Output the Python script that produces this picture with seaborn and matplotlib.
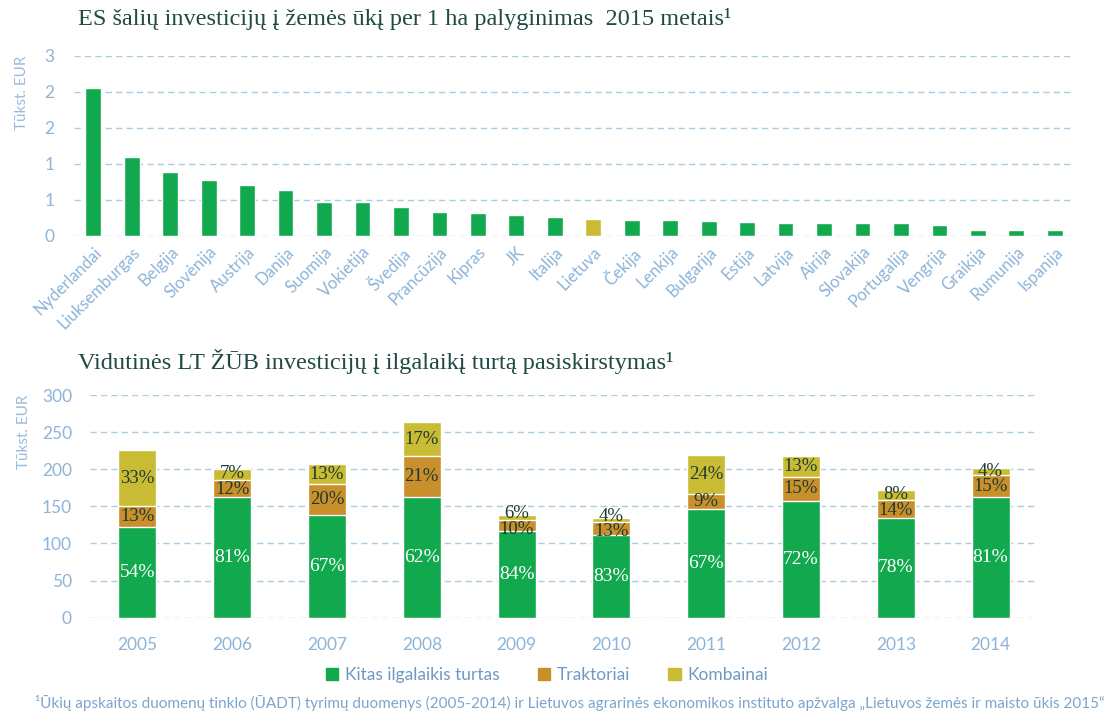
import numpy as np
import pandas as pd
import matplotlib.pyplot as plt
import seaborn as sns
from matplotlib.patches import Patch

# --- top chart: investment per ha, thousand EUR ---
countries = ['Nyderlandai', 'Liuksemburgas', 'Belgija', 'Slovėnija', 'Austrija', 'Danija',
             'Suomija', 'Vokietija', 'Švedija', 'Prancūzija', 'Kipras', 'JK', 'Italija',
             'Lietuva', 'Čekija', 'Lenkija', 'Bulgarija', 'Estija', 'Latvija', 'Airija',
             'Slovakija', 'Portugalija', 'Vengrija', 'Graikija', 'Rumunija', 'Ispanija']
values = [2.06, 1.09, 0.89, 0.77, 0.70, 0.63, 0.47, 0.47, 0.39, 0.33, 0.31, 0.28, 0.26,
          0.23, 0.22, 0.21, 0.20, 0.19, 0.17, 0.17, 0.17, 0.17, 0.14, 0.07, 0.07, 0.07]
highlight = 'Lietuva'
top_yticks = [0, 0.5, 1, 1.5, 2, 2.5]
top_ylabels = ['0', '1', '1', '2', '2', '3']

# --- bottom chart: LT farm investments, thousand EUR ---
years = ['2005', '2006', '2007', '2008', '2009', '2010', '2011', '2012', '2013', '2014']
kitas = [122, 162, 139, 163, 117, 112, 147, 157, 134, 163]
traktoriai = [28, 24, 41, 55, 14, 17, 20, 33, 24, 29]
kombainai = [76, 14, 27, 45, 8, 5, 52, 28, 14, 9]
kitas_pct = ['54%', '81%', '67%', '62%', '84%', '83%', '67%', '72%', '78%', '81%']
trakt_pct = ['13%', '12%', '20%', '21%', '10%', '13%', '9%', '15%', '14%', '15%']
komb_pct = ['33%', '7%', '13%', '17%', '6%', '4%', '24%', '13%', '8%', '4%']
bottom_yticks = [0, 50, 100, 150, 200, 250, 300]
series_names = ['Kitas ilgalaikis turtas', 'Traktoriai', 'Kombainai']

GREEN = '#12A84E'
ORANGE = '#C98F2B'
YELLOW = '#C9BC34'
TICK = '#8DB4D9'
GRID = '#A9CDE3'
TITLE = '#1F4B44'
DARK = '#1E3A2F'

sns.set_theme(style='white')
plt.rcParams['font.family'] = ['Lato', 'DejaVu Sans']

W, H = 1119, 719
fig = plt.figure(figsize=(W / 100, H / 100), dpi=100)


def px_axes(x0, x1, y0, y1):
    return fig.add_axes([x0 / W, 1 - y1 / H, (x1 - x0) / W, (y1 - y0) / H])


def style_axis(ax, yticks, ylabels):
    ax.set_yticks(yticks)
    ax.set_yticklabels(ylabels)
    ax.set_ylim(yticks[0], yticks[-1])
    ax.yaxis.grid(True, color=GRID, linestyle=(0, (4.5, 3)), linewidth=1.0)
    ax.xaxis.grid(False)
    ax.set_axisbelow(True)
    sns.despine(ax=ax, left=True, bottom=True)
    ax.tick_params(axis='both', length=0, colors=TICK)
    for lab in ax.get_yticklabels():
        lab.set_fontsize(12.5)
        lab.set_color(TICK)
    ax.set_xlabel('')
    ax.set_ylabel('Tūkst. EUR', loc='top', color='#9BBCDD', fontsize=11)


# top chart
ax1 = px_axes(74, 1074, 56, 235.5)
colors = [YELLOW if c == highlight else GREEN for c in countries]
sns.barplot(x=countries, y=values, hue=countries, palette=colors, legend=False,
            width=0.41, saturation=1, ax=ax1)
ax1.set_xlim(-0.5, len(countries) - 0.5)
style_axis(ax1, top_yticks, top_ylabels)
ax1.tick_params(axis='y', pad=14)
ax1.set_xticks(range(len(countries)))
ax1.set_xticklabels(countries, rotation=45, ha='right', rotation_mode='anchor',
                    fontsize=12, color=TICK)
ax1.tick_params(axis='x', pad=6)
ax1.yaxis.set_label_coords(-0.045, 1.0)

# bottom chart, stacked
ax2 = px_axes(90, 1038, 395, 617.7)
df = pd.DataFrame({'year': years, 'kitas': kitas, 'traktoriai': traktoriai,
                   'kombainai': kombainai})
df['lvl2'] = df['kitas'] + df['traktoriai']
df['lvl3'] = df['lvl2'] + df['kombainai']
sns.barplot(data=df, x='year', y='lvl3', color=YELLOW, width=0.4, saturation=1, ax=ax2)
sns.barplot(data=df, x='year', y='lvl2', color=ORANGE, width=0.4, saturation=1, ax=ax2)
sns.barplot(data=df, x='year', y='kitas', color=GREEN, width=0.4, saturation=1, ax=ax2)
ax2.set_xlim(-0.5, len(years) - 0.5)
style_axis(ax2, bottom_yticks, [str(t) for t in bottom_yticks])
ax2.tick_params(axis='y', pad=13)
ax2.tick_params(axis='x', pad=14, labelsize=12.5)
ax2.yaxis.set_label_coords(-0.062, 1.0)

# percentage labels; small top segments get pushed apart like in the original
min_gap = 21
for i in range(len(years)):
    k, t, c = kitas[i], traktoriai[i], kombainai[i]
    y_t = k + t / 2
    y_c = k + t + c / 2
    if y_c - y_t < min_gap:
        mid = (y_t + y_c) / 2
        y_t, y_c = mid - min_gap / 2, mid + min_gap / 2
    ax2.text(i, k / 2, kitas_pct[i], ha='center', va='center', color='white',
             fontsize=14, family='Liberation Serif')
    ax2.text(i, y_t, trakt_pct[i], ha='center', va='center', color=DARK,
             fontsize=13.5, family='Liberation Serif')
    ax2.text(i, y_c, komb_pct[i], ha='center', va='center', color=DARK,
             fontsize=13.5, family='Liberation Serif')

# titles
fig.text(78 / W, 1 - 19 / H, 'ES šalių investicijų į žemės ūkį per 1 ha palyginimas  2015 metais¹',
         family='Liberation Serif', fontsize=17.5, color=TITLE, va='center')
fig.text(78 / W, 1 - 362 / H, 'Vidutinės LT ŽŪB investicijų į ilgalaikį turtą pasiskirstymas¹',
         family='Liberation Serif', fontsize=17.5, color=TITLE, va='center')

# legend
handles = [Patch(color=GREEN), Patch(color=ORANGE), Patch(color=YELLOW)]
fig.legend(handles, series_names, loc='center', bbox_to_anchor=(547 / W, 1 - 675 / H),
           ncol=3, frameon=False, handlelength=0.7, handleheight=0.7,
           handletextpad=0.4, columnspacing=2.2, labelcolor='#6E99C5', fontsize=12.5)

# footnote
fig.text(35 / W, 1 - 703 / H,
         '¹Ūkių apskaitos duomenų tinklo (ŪADT) tyrimų duomenys (2005-2014) ir Lietuvos agrarinės '
         'ekonomikos instituto apžvalga „Lietuvos žemės ir maisto ūkis 2015“',
         fontsize=11, color='#7DA5CC', va='center', ha='left')

fig.savefig('out.png', dpi=100)
